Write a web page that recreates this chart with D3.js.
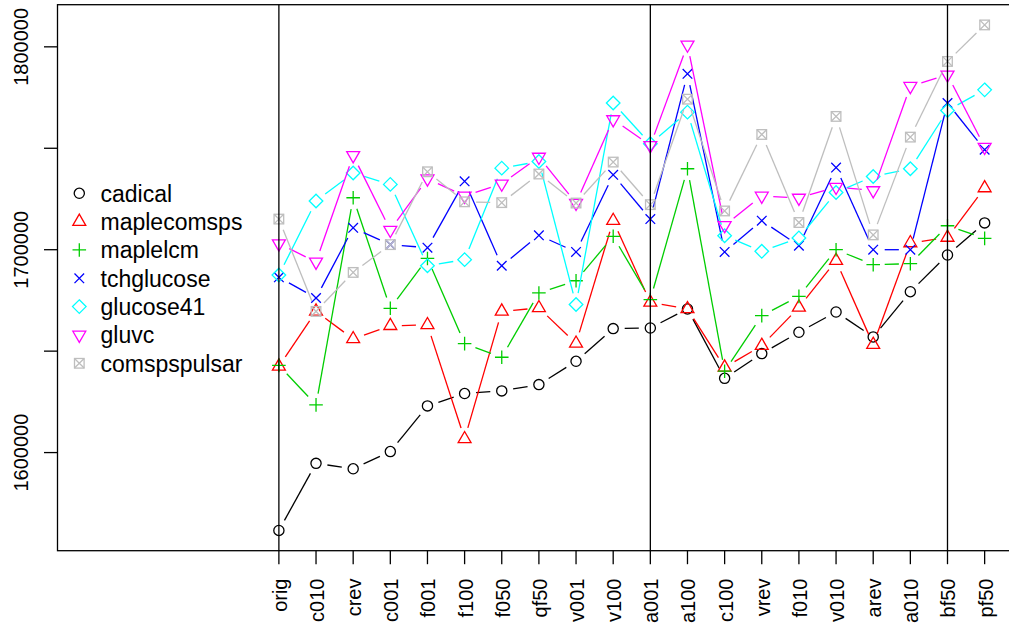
<!DOCTYPE html>
<html>
<head>
<meta charset="utf-8">
<title>Solver comparison</title>
<script src="https://d3js.org/d3.v7.min.js"></script>
<style>
  * { margin: 0; padding: 0; }
  body { background: #fff; }
  svg { display: block; font-family: "Liberation Sans", Arial, Helvetica, sans-serif; }
</style>
</head>
<body>
<div id="chart"></div>
<script>
const categories = ["orig","c010","crev","c001","f001","f100","f050","qf50","v001","v100",
                    "a001","a100","c100","vrev","f010","v010","arev","a010","bf50","pf50"];

const cadical      = [1561600,1594700,1592000,1600500,1623000,1629100,1630400,1633500,1645000,1661100,
                      1661400,1670800,1636600,1648800,1659300,1669300,1657000,1679300,1697400,1713200];
const maplecomsps  = [1642500,1669600,1656000,1662500,1662900,1606700,1669600,1671300,1653800,1714300,
                      1674000,1670800,1642000,1652700,1671600,1694600,1653200,1703300,1706000,1730400];
const maplelcm     = [1643000,1623500,1725600,1671100,1695700,1653700,1647000,1678700,1684700,1706600,
                      1675400,1739900,1640100,1667500,1677000,1700000,1692600,1693100,1711800,1705600];
const tchglucose   = [1686400,1676200,1710800,1702500,1701000,1733700,1692100,1707100,1698900,1736900,
                      1715100,1786700,1698900,1714300,1702000,1740500,1700000,1700000,1772300,1749300];
const glucose41    = [1687500,1724000,1737800,1732200,1692100,1695100,1740200,1743500,1673000,1772300,
                      1752200,1767800,1706900,1699200,1705800,1728200,1736100,1739900,1768600,1778800];
const gluvc        = [1703000,1694000,1746500,1709700,1735000,1726500,1732500,1745700,1723000,1764200,
                      1751400,1801000,1712000,1726500,1725500,1730900,1729200,1780600,1786200,1750600];
const comspspulsar = [1715100,1669600,1688800,1702500,1738400,1723600,1723200,1737300,1723000,1743200,
                      1722200,1774200,1719100,1756800,1713400,1765700,1707300,1755500,1792800,1810800];

const seriesNames = ["cadical","maplecomsps","maplelcm","tchglucose","glucose41","gluvc","comspspulsar"];
const seriesValues = [cadical, maplecomsps, maplelcm, tchglucose, glucose41, gluvc, comspspulsar];
const seriesColors = ["#000000","#FF0000","#00CD00","#0000FF","#00FFFF","#FF00FF","#BEBEBE"];
const seriesPch = [1, 2, 3, 4, 5, 6, 7];

const yTicks = [1600000, 1650000, 1700000, 1750000, 1800000];
const yTickLabels = ["1600000", "", "1700000", "", "1800000"];
const markedCategories = ["orig", "a001", "bf50"];

const width = 1009, height = 625;
const plotLeft = 57.5, plotRight = 1020.3, plotTop = 4.7, plotBottom = 550.7;
const lw = 1.3;

const svg = d3.select("#chart").append("svg")
  .attr("width", width).attr("height", height);

// R style limits: xlim c(-4, 20) on 1-based indices, 4% padding each side
const xlim = [-4, 20];
const xpad = (xlim[1] - xlim[0]) * 0.04;
const xScale = d3.scaleLinear()
  .domain([xlim[0] - xpad, xlim[1] + xpad])
  .range([plotLeft, plotRight]);

const allVals = seriesValues.flat();
const yMin = d3.min(allVals), yMax = d3.max(allVals);
const ypad = (yMax - yMin) * 0.04;
const yScale = d3.scaleLinear()
  .domain([yMin - ypad, yMax + ypad])
  .range([plotBottom, plotTop]);

const xPos = i => xScale(i + 1);

// box
svg.append("rect")
  .attr("x", plotLeft).attr("y", plotTop)
  .attr("width", plotRight - plotLeft).attr("height", plotBottom - plotTop)
  .attr("fill", "none").attr("stroke", "#000").attr("stroke-width", lw);

// y axis
const yAxis = svg.append("g").attr("id", "y-axis");
yAxis.selectAll("line").data(yTicks).enter().append("line")
  .attr("x1", plotLeft - 13.5).attr("x2", plotLeft)
  .attr("y1", d => yScale(d)).attr("y2", d => yScale(d))
  .attr("stroke", "#000").attr("stroke-width", lw);
yAxis.selectAll("text").data(yTicks).enter().append("text")
  .attr("transform", d => "translate(27.5," + yScale(d) + ") rotate(-90)")
  .attr("text-anchor", "middle")
  .style("font-size", "20px")
  .text((d, i) => yTickLabels[i]);

// x axis
const xAxis = svg.append("g").attr("id", "x-axis");
xAxis.selectAll("line").data(categories).enter().append("line")
  .attr("x1", (d, i) => xPos(i)).attr("x2", (d, i) => xPos(i))
  .attr("y1", plotBottom).attr("y2", plotBottom + 13.5)
  .attr("stroke", "#000").attr("stroke-width", lw);
xAxis.selectAll("text").data(categories).enter().append("text")
  .attr("transform", (d, i) => "translate(" + xPos(i) + "," + 578.5 + ") rotate(-90)")
  .attr("text-anchor", "end")
  .attr("dy", "0.4em")
  .style("font-size", "20px")
  .text(d => d);

// marker shapes like R's pch
const R0 = 4.8;
function drawPch(g, pch, x, y, color) {
  const s = g.append("g").attr("transform", "translate(" + x + "," + y + ")")
    .attr("fill", "none").attr("stroke", color).attr("stroke-width", lw);
  if (pch === 1) {
    s.append("circle").attr("r", R0 + 0.3);
  } else if (pch === 2 || pch === 6) {
    const r = 1.555 * R0, xc = r * Math.sqrt(3) / 2, yc = r / 2;
    const f = pch === 2 ? 1 : -1;
    s.append("path").attr("d", "M0," + (-r * f) + "L" + xc + "," + (yc * f) + "L" + (-xc) + "," + (yc * f) + "Z");
  } else if (pch === 3) {
    const c = Math.SQRT2 * R0;
    s.append("path").attr("d", "M" + (-c) + ",0H" + c + "M0," + (-c) + "V" + c);
  } else if (pch === 4) {
    const c = R0;
    s.append("path").attr("d", "M" + (-c) + "," + (-c) + "L" + c + "," + c + "M" + (-c) + "," + c + "L" + c + "," + (-c));
  } else if (pch === 5) {
    const c = Math.SQRT2 * R0;
    s.append("path").attr("d", "M0," + (-c) + "L" + c + ",0L0," + c + "L" + (-c) + ",0Z");
  } else if (pch === 7) {
    const c = R0;
    s.append("rect").attr("x", -c).attr("y", -c).attr("width", 2 * c).attr("height", 2 * c);
    s.append("path").attr("d", "M" + (-c) + "," + (-c) + "L" + c + "," + c + "M" + (-c) + "," + c + "L" + c + "," + (-c));
  }
}

// series, type "b": points joined by lines with gaps
const gap = 11.5;
const plotG = svg.append("g");
seriesValues.forEach((vals, k) => {
  const col = seriesColors[k];
  const pts = vals.map((v, i) => [xPos(i), yScale(v)]);
  for (let i = 0; i < pts.length - 1; i++) {
    const [x0, y0] = pts[i], [x1, y1] = pts[i + 1];
    const dx = x1 - x0, dy = y1 - y0, len = Math.sqrt(dx * dx + dy * dy);
    if (len <= 2 * gap) continue;
    const ux = dx / len, uy = dy / len;
    plotG.append("line")
      .attr("x1", x0 + ux * gap).attr("y1", y0 + uy * gap)
      .attr("x2", x1 - ux * gap).attr("y2", y1 - uy * gap)
      .attr("stroke", col).attr("stroke-width", lw);
  }
  pts.forEach(p => drawPch(plotG, seriesPch[k], p[0], p[1], col));
});

// vertical reference lines
svg.selectAll(".vline").data(markedCategories).enter().append("line")
  .attr("class", "vline")
  .attr("x1", d => xPos(categories.indexOf(d))).attr("x2", d => xPos(categories.indexOf(d)))
  .attr("y1", plotTop).attr("y2", plotBottom)
  .attr("stroke", "#000").attr("stroke-width", lw);

// legend
const legend = svg.append("g").attr("id", "legend");
seriesNames.forEach((name, k) => {
  const y = 193.3 + k * 28.33;
  drawPch(legend, seriesPch[k], 79.3, y, seriesColors[k]);
  legend.append("text")
    .attr("x", 100.5).attr("y", y).attr("dy", "0.36em")
    .style("font-size", "23px")
    .text(name);
});
</script>
</body>
</html>
